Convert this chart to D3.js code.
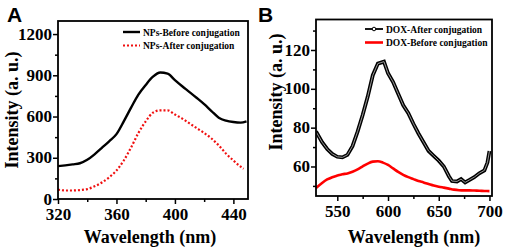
<!DOCTYPE html>
<html><head><meta charset="utf-8">
<script src="https://cdn.jsdelivr.net/npm/d3@7"></script>
<style>
body{margin:0;background:#fff;}
svg{display:block;}
svg text{font-family:"Liberation Serif","Tinos","Times New Roman","DejaVu Serif",serif !important;font-weight:bold;fill:#000;}
svg text.sans{font-family:"Liberation Sans","Arimo",Arial,sans-serif !important;}
</style></head>
<body>
<svg id="c" width="505" height="247"></svg>
<script>
// ---------- DATA ----------
const npsWl = [320,325,330,335,340,345,350,355,360,365,370,375,380,385,390,395,400,405,410,415,420,425,430,435,440,445,449];
const npsBefore = [239,245,252,260,285,325,372,420,472,565,665,760,830,890,920,912,865,820,778,735,690,640,592,570,560,556,565];
const npsAfterWl = [320,325,330,335,340,345,350,355,360,365,370,375,380,385,390,395,400,405,410,415,420,425,430,435,440,445,447];
const npsAfter = [68,62,62,65,72,92,120,158,207,280,375,480,565,628,645,645,615,585,550,515,480,440,390,330,280,235,220];
const aXTicks = [320,360,400,440];
const aXMinor = [340,380,420];
const aYTicks = [0,300,600,900,1200];
const aYMinor = [150,450,750,1050];

const doxAfterWl = [529,535,540,545,550,555,560,565,570,575,580,585,590,593,596,600,605,610,615,620,625,630,635,640,645,650,655,660,663,668,672,676,680,685,690,695,698,700];
const doxAfter = [78,72.5,69,66.5,65,64.7,66,70.5,78,86.5,96,107,113,113.5,114,108,103.5,97.5,91.5,87.5,82,77,72.5,68,65.5,63,60,55,52.5,52.3,53.5,51.8,53,54.5,56.5,58,62,68];
const doxBeforeWl = [529,535,540,545,550,555,560,565,570,575,580,585,590,595,600,605,610,615,620,625,630,635,640,645,650,655,660,665,670,675,680,685,690,695,700];
const doxBefore = [48.9,51.5,53.3,54.5,55.3,56,56.4,57.3,58.5,60,61.5,62.5,62.7,62,60.8,59,57.2,55.7,54.5,53.5,52.5,51.8,51,50.2,49.6,49.1,48.6,48.1,47.8,47.7,47.7,47.6,47.5,47.4,47.3];
const bXTicks = [550,600,650,700];
const bXMinor = [575,625,675];
const bYTicks = [60,80,100,120];
const bYMinor = [50,70,90,110,130];

// ---------- DRAW ----------
const svg = d3.select("#c");

function panel(o){
  const g = svg.append("g");
  const x = d3.scaleLinear().domain(o.xd).range([o.l,o.r]);
  const y = d3.scaleLinear().domain(o.yd).range([o.b,o.t]);
  g.append("g").attr("transform",`translate(0,${o.b})`)
    .call(d3.axisBottom(x).tickValues(o.xMinor).tickSize(3).tickFormat(""))
    .call(s=>s.select(".domain").remove());
  g.append("g").attr("transform",`translate(${o.l},0)`)
    .call(d3.axisLeft(y).tickValues(o.yMinor).tickSize(3).tickFormat(""))
    .call(s=>s.select(".domain").remove());
  const ax = g.append("g").attr("transform",`translate(0,${o.b})`)
    .call(d3.axisBottom(x).tickValues(o.xTicks).tickSize(5).tickPadding(4).tickFormat(d3.format("d")));
  ax.select(".domain").remove();
  ax.selectAll("text").attr("font-size",17);
  const ay = g.append("g").attr("transform",`translate(${o.l},0)`)
    .call(d3.axisLeft(y).tickValues(o.yTicks).tickSize(5).tickPadding(1).tickFormat(d3.format("d")));
  ay.select(".domain").remove();
  ay.selectAll("text").attr("font-size",17).attr("dy","0.3em");
  g.selectAll(".tick line").attr("stroke","#000").attr("stroke-width",1.5);
  const cid = "clip"+o.id;
  svg.append("clipPath").attr("id",cid).append("rect")
    .attr("x",o.l).attr("y",o.t).attr("width",o.r-o.l).attr("height",o.b-o.t);
  const lg = g.append("g").attr("clip-path",`url(#${cid})`);
  o.series.forEach(s=>{
    const line = d3.line().x((d,i)=>x(s.xs[i])).y(d=>y(d)).curve(s.curve||d3.curveMonotoneX);
    s.draw(lg, line(s.ys));
  });
  g.append("rect").attr("x",o.l).attr("y",o.t).attr("width",o.r-o.l).attr("height",o.b-o.t)
    .attr("fill","none").attr("stroke","#000").attr("stroke-width",1.8);
  g.append("text").attr("x",o.xtx).attr("y",243).attr("text-anchor","middle")
    .attr("font-size",18).text("Wavelength (nm)");
  g.append("text").attr("transform",`translate(${o.ytx},${o.yty}) rotate(-90)`).attr("text-anchor","middle")
    .attr("font-size",18).text("Intensity (a. u.)");
  g.append("text").attr("class","sans").attr("x",o.labx).attr("y",22).attr("font-size",21).text(o.label);
  o.legend.forEach((L,i)=>{
    const yy = o.legY + i*13.5;
    L.sym(g, o.legX1, o.legX2, yy);
    g.append("text").attr("x",o.legX2+3).attr("y",yy+3.5).attr("font-size",9.5).text(L.text);
  });
}

function solidBlack(g,d){ g.append("path").attr("d",d).attr("fill","none").attr("stroke","#000").attr("stroke-width",2.4); }
function dottedRed(g,d){ g.append("path").attr("d",d).attr("fill","none").attr("stroke","#f01010").attr("stroke-width",2.2).attr("stroke-dasharray","2,2"); }
function solidRed(g,d){ g.append("path").attr("d",d).attr("fill","none").attr("stroke","#ff0000").attr("stroke-width",2.6); }
function markedBlack(g,d){
  g.append("path").attr("d",d).attr("fill","none").attr("stroke","#000").attr("stroke-width",3.8);
  g.append("path").attr("d",d).attr("fill","none").attr("stroke","#aaa").attr("stroke-width",0.9);
}

panel({
  id:"A", l:58, r:248, t:21, b:199, xd:[320,450], yd:[0,1295],
  xTicks:aXTicks, xMinor:aXMinor, yTicks:aYTicks, yMinor:aYMinor,
  xtx:150, ytx:18, yty:110, labx:7, label:"A",
  series:[
    {xs:npsWl, ys:npsBefore, draw:solidBlack},
    {xs:npsAfterWl, ys:npsAfter, draw:dottedRed}
  ],
  legX1:123, legX2:140, legY:32,
  legend:[
    {text:"NPs-Before conjugation", sym:(g,a,b,y)=>g.append("line").attr("x1",a).attr("x2",b).attr("y1",y).attr("y2",y).attr("stroke","#000").attr("stroke-width",2.4)},
    {text:"NPs-After conjugation", sym:(g,a,b,y)=>g.append("line").attr("x1",a).attr("x2",b).attr("y1",y).attr("y2",y).attr("stroke","#f01010").attr("stroke-width",2.2).attr("stroke-dasharray","2,2")}
  ]
});

panel({
  id:"B", l:316, r:492, t:19.5, b:196, xd:[529,702.5], yd:[44.8,135.7],
  xTicks:bXTicks, xMinor:bXMinor, yTicks:bYTicks, yMinor:bYMinor,
  xtx:414, ytx:282, yty:92, labx:258, label:"B",
  series:[
    {xs:doxBeforeWl, ys:doxBefore, draw:solidRed},
    {xs:doxAfterWl, ys:doxAfter, draw:markedBlack, curve:d3.curveLinear}
  ],
  legX1:365, legX2:383, legY:29,
  legend:[
    {text:"DOX-After conjugation", sym:(g,a,b,y)=>{g.append("line").attr("x1",a).attr("x2",b).attr("y1",y).attr("y2",y).attr("stroke","#000").attr("stroke-width",1.8);
       g.append("circle").attr("cx",(a+b)/2).attr("cy",y).attr("r",1.8).attr("fill","#fff").attr("stroke","#000").attr("stroke-width",1);}},
    {text:"DOX-Before conjugation", sym:(g,a,b,y)=>g.append("line").attr("x1",a).attr("x2",b).attr("y1",y).attr("y2",y).attr("stroke","#ff0000").attr("stroke-width",2.6)}
  ]
});
</script>
</body></html>
